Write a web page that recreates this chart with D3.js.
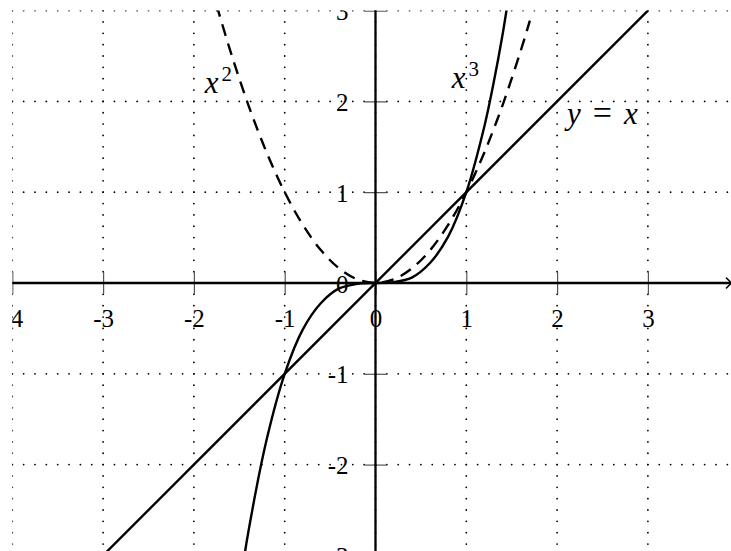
<!DOCTYPE html>
<html>
<head>
<meta charset="utf-8">
<script src="https://cdn.jsdelivr.net/npm/d3@7"></script>
<style>
  body { margin: 0; background: #fff; }
</style>
</head>
<body>
<div id="vis"></div>
<script>
// data
const xTicks = [-4, -3, -2, -1, 0, 1, 2, 3];
const yTicks = [-3, -2, -1, 0, 1, 2, 3];
const xTickLabels = ['-4', '-3', '-2', '-1', '0', '1', '2', '3'];
const yTickLabels = ['-3', '-2', '-1', '0', '1', '2', '3'];

// y = x
const lineX = [-3, 3];
const lineY = [-3, 3];

// x^2 (dashed)
const squareX = [-1.75, -1.6, -1.4, -1.2, -1.0, -0.8, -0.6, -0.4, -0.2, 0, 0.2, 0.4, 0.6, 0.8, 1.0, 1.2, 1.4, 1.6, 1.7];
const squareY = [3.06, 2.56, 1.96, 1.44, 1.0, 0.64, 0.36, 0.16, 0.04, 0, 0.04, 0.16, 0.36, 0.64, 1.0, 1.44, 1.96, 2.56, 2.89];

// x^3
const cubeX = [-1.5, -1.4, -1.2, -1.0, -0.8, -0.6, -0.4, -0.2, 0, 0.2, 0.4, 0.6, 0.8, 1.0, 1.2, 1.3, 1.4, 1.45];
const cubeY = [-3.38, -2.74, -1.73, -1.0, -0.51, -0.22, -0.06, -0.01, 0, 0.01, 0.06, 0.22, 0.51, 1.0, 1.73, 2.2, 2.74, 3.05];

// curve labels
const labelText = ['x', 'x', 'y = x'];
const labelSup = ['2', '3', ''];
const labelX = [-1.88, 0.84, 2.11];
const labelY = [2.09, 2.15, 1.75];

const serif = '"Liberation Serif", "Times New Roman", serif';

// svg
const width = 731;
const height = 551;

const svg = d3.select('#vis')
    .append('svg')
    .attr('width', width)
    .attr('height', height);

// scales
const xScale = d3.scaleLinear()
    .domain([-4, 4])
    .range([12.3, 738.7]);

const yScale = d3.scaleLinear()
    .domain([-3, 3])
    .range([555.4, 10.6]);

const unit = xScale(1) - xScale(0);
const x0 = xScale(0);
const y0 = yScale(0);

// clip to the grid rectangle
svg.append('clipPath')
    .attr('id', 'frame')
    .append('rect')
    .attr('x', xScale(-4))
    .attr('y', yScale(3))
    .attr('width', xScale(4) - xScale(-4))
    .attr('height', yScale(-3) - yScale(3));

const g = svg.append('g').attr('clip-path', 'url(#frame)');

// dotted grid
const grid = g.append('g')
    .attr('stroke', '#000')
    .attr('stroke-width', 1.8)
    .attr('stroke-linecap', 'round')
    .attr('stroke-dasharray', `0 ${unit / 8}`);

grid.selectAll('.vgrid')
    .data(xTicks.concat([4]))
    .join('line')
    .attr('class', 'vgrid')
    .attr('x1', d => xScale(d))
    .attr('x2', d => xScale(d))
    .attr('y1', yScale(3))
    .attr('y2', yScale(-3));

grid.selectAll('.hgrid')
    .data(yTicks)
    .join('line')
    .attr('class', 'hgrid')
    .attr('x1', xScale(-4))
    .attr('x2', xScale(4))
    .attr('y1', d => yScale(d))
    .attr('y2', d => yScale(d));

// axes (ticks + labels)
const xAxis = d3.axisBottom(xScale)
    .tickValues(xTicks)
    .tickFormat((d, i) => xTickLabels[i])
    .tickSize(22);

const xAxisG = g.append('g')
    .attr('transform', `translate(0,${y0 - 11})`)
    .call(xAxis)
    .attr('font-family', serif)
    .attr('font-size', 25);
xAxisG.select('.domain').remove();
xAxisG.selectAll('line').attr('stroke', '#555').attr('stroke-width', 1.2);
xAxisG.selectAll('text')
    .attr('y', 55)
    .attr('dy', null)
    .style('font-family', serif)
    .style('font-size', '25px');

const yAxis = d3.axisLeft(yScale)
    .tickValues(yTicks)
    .tickFormat((d, i) => yTickLabels[i])
    .tickSize(22);

const yAxisG = g.append('g')
    .attr('transform', `translate(${x0 + 11},0)`)
    .call(yAxis)
    .attr('font-family', serif)
    .attr('font-size', 25);
yAxisG.select('.domain').remove();
yAxisG.selectAll('line').attr('stroke', '#555').attr('stroke-width', 1.2);
yAxisG.selectAll('text')
    .attr('x', -38)
    .attr('dy', null)
    .attr('y', 9)
    .style('font-family', serif)
    .style('font-size', '25px');

// axis lines
const xEnd = xScale(3.92);
g.append('line')
    .attr('x1', xScale(-4))
    .attr('x2', xEnd)
    .attr('y1', y0)
    .attr('y2', y0)
    .attr('stroke', '#000')
    .attr('stroke-width', 2.3);

g.append('path')
    .attr('d', `M${xEnd - 5},${y0 - 5} Q${xEnd - 1},${y0 - 1} ${xEnd},${y0} Q${xEnd - 1},${y0 + 1} ${xEnd - 5},${y0 + 5}`)
    .attr('fill', 'none')
    .attr('stroke', '#000')
    .attr('stroke-width', 1.6)
    .attr('stroke-linecap', 'round');

g.append('line')
    .attr('x1', x0)
    .attr('x2', x0)
    .attr('y1', yScale(-3))
    .attr('y2', yScale(3))
    .attr('stroke', '#000')
    .attr('stroke-width', 2.3);

// curves
const line = d3.line()
    .x(d => xScale(d[0]))
    .y(d => yScale(d[1]))
    .curve(d3.curveCatmullRom.alpha(0.5));

const curves = [
    { pts: d3.zip(lineX, lineY), dash: null },
    { pts: d3.zip(cubeX, cubeY), dash: null },
    { pts: d3.zip(squareX, squareY), dash: '12 8' }
];

g.selectAll('.curve')
    .data(curves)
    .join('path')
    .attr('class', 'curve')
    .attr('d', d => line(d.pts))
    .attr('fill', 'none')
    .attr('stroke', '#000')
    .attr('stroke-width', 2.4)
    .attr('stroke-dasharray', d => d.dash);

// curve labels
const labels = g.selectAll('.curve-label')
    .data(labelText)
    .join('text')
    .attr('class', 'curve-label')
    .attr('x', (d, i) => xScale(labelX[i]))
    .attr('y', (d, i) => yScale(labelY[i]))
    .style('font-family', serif)
    .style('font-size', '31px')
    .style('font-style', 'italic');

labels.each(function (d, i) {
    const t = d3.select(this);
    if (d === 'y = x') {
        t.append('tspan').text('y');
        t.append('tspan').attr('dx', 12).style('font-style', 'normal').style('font-size', '34px').text('=');
        t.append('tspan').attr('dx', 12).text('x');
    } else {
        t.append('tspan').text(d);
        t.append('tspan')
            .attr('dx', 3)
            .attr('dy', -12)
            .style('font-size', '21px')
            .style('font-style', 'normal')
            .text(labelSup[i]);
    }
});
</script>
</body>
</html>
